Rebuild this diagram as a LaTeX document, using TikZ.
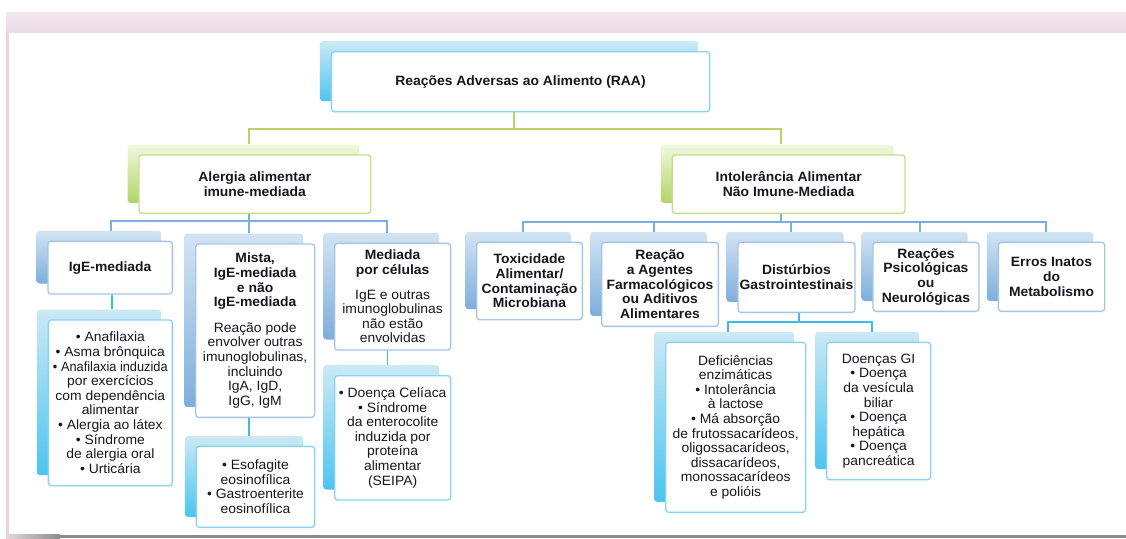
\documentclass[tikz,border=0pt]{standalone}
\usepackage{graphicx}
\usepackage{fontspec}
\setmainfont{Liberation Sans}[FakeStretch=1.03]
\definecolor{txt}{HTML}{16161F}
\definecolor{cTop}{HTML}{CBE9F4}
\definecolor{cBot}{HTML}{4DC4F1}
\definecolor{cEdge}{HTML}{86D4F2}
\definecolor{cLine}{HTML}{3DBCE8}
\definecolor{bTop}{HTML}{D2E4F3}
\definecolor{bBot}{HTML}{7DAEDB}
\definecolor{bEdge}{HTML}{A6C5E5}
\definecolor{bLine}{HTML}{7AAEDC}
\definecolor{gTop}{HTML}{F2F8DE}
\definecolor{gBot}{HTML}{B2D366}
\definecolor{gEdge}{HTML}{C5DE8C}
\definecolor{gLine}{HTML}{B6D36C}
\definecolor{pinkA}{HTML}{F4E7EF}
\definecolor{pinkB}{HTML}{ECDCE5}
\definecolor{frameL}{HTML}{E6D7DF}
\definecolor{frameB}{HTML}{8C8A8C}
\newcommand\boxfont{\fontsize{13.5}{14.6}\selectfont}
\newcommand\squeeze[1]{\scalebox{0.92}[1]{#1}}
\newcommand\boxpair[7]{%
  \node[back#2, minimum width={#5-#3}, minimum height={#6-#4}] (#1b) at ({#3-11},{#4-10}) {};
  \node[front#2, minimum width={#5-#3}, minimum height={#6-#4}] (#1) at (#3,#4) {#7};
}
\tikzset{
  backbase/.style={anchor=north west, inner sep=0pt, rounded corners=3pt, draw=none},
  frontbase/.style={anchor=north west, inner sep=0pt, rounded corners=3pt, fill=white,
    line width=1.3pt, align=center, text=txt, font=\boxfont},
  backC/.style={backbase, top color=cTop, bottom color=cBot},
  backB/.style={backbase, top color=bTop, bottom color=bBot},
  backG/.style={backbase, top color=gTop, bottom color=gBot},
  frontC/.style={frontbase, draw=cEdge},
  frontB/.style={frontbase, draw=bEdge},
  frontG/.style={frontbase, draw=gEdge},
  gconn/.style={draw=gLine, line width=1.8pt},
  bconn/.style={draw=bLine, line width=1.8pt},
  cconn/.style={draw=cLine, line width=1.8pt},
}
\begin{document}
\begin{tikzpicture}[x=1pt,y=-1pt]
\useasboundingbox (0,0) rectangle (1126,538);
\fill[white] (0,0) rectangle (1126,538);
\shade[top color=pinkA, bottom color=pinkB] (6,12) rectangle (1126,32);
\fill[frameL] (6,32) rectangle (8.5,535);
\shade[left color=frameL, right color=frameB] (6,534.5) rectangle (60,538);
\fill[frameB] (59.5,534.5) rectangle (1126,538);

\boxpair{raa}{C}{330.7}{51}{709}{111}{\textbf{Reações Adversas ao Alimento (RAA)}}
\boxpair{alergia}{G}{138.3}{154.3}{370}{212.7}{\textbf{Alergia alimentar}\\\textbf{imune-mediada}}
\boxpair{intol}{G}{671.7}{154.3}{904.3}{212.7}{\textbf{Intolerância Alimentar}\\\textbf{Não Imune-Mediada}}
\boxpair{ige}{B}{47.3}{240.7}{171.7}{293.3}{\textbf{IgE-mediada}}
\boxpair{mista}{B}{195}{243.3}{314}{416.7}{\textbf{Mista,}\\\textbf{IgE-mediada}\\\textbf{e não}\\\textbf{IgE-mediada}\\[11pt]Reação pode\\envolver outras\\imunoglobulinas,\\incluindo\\IgA, IgD,\\IgG, IgM}
\boxpair{med}{B}{334}{242.7}{450}{349.3}{\textbf{Mediada}\\\textbf{por células}\\[10pt]IgE e outras\\imunoglobulinas\\não estão\\envolvidas}
\boxpair{lista}{C}{47.7}{319.3}{171.7}{485}{• Anafilaxia\\• Asma brônquica\\\squeeze{• Anafilaxia induzida}\\por exercícios\\com dependência\\alimentar\\• Alergia ao látex\\• Síndrome\\de alergia oral\\• Urticária}
\boxpair{esof}{C}{195.7}{445.7}{314}{526.7}{• Esofagite\\eosinofílica\\• Gastroenterite\\eosinofílica}
\boxpair{celi}{C}{334}{375}{450}{499.3}{• Doença Celíaca\\• Síndrome\\da enterocolite\\induzida por\\proteína\\alimentar\\(SEIPA)}
\boxpair{tox}{B}{476}{241.7}{581.7}{319}{\textbf{Toxicidade}\\\textbf{Alimentar/}\\\textbf{Contaminação}\\\textbf{Microbiana}}
\boxpair{reac}{B}{601}{241.7}{717.7}{325.7}{\textbf{Reação}\\\textbf{a Agentes}\\\textbf{Farmacológicos}\\\textbf{ou Aditivos}\\\textbf{Alimentares}}
\boxpair{dist}{B}{737.3}{241.7}{854.3}{311.7}{\textbf{Distúrbios}\\\textbf{Gastrointestinais}}
\boxpair{psic}{B}{872.3}{241.7}{978.3}{310.7}{\textbf{Reações}\\\textbf{Psicológicas}\\\textbf{ou}\\\textbf{Neurológicas}}
\boxpair{erros}{B}{997.7}{241.7}{1104}{310.7}{\textbf{Erros Inatos}\\\textbf{do}\\\textbf{Metabolismo}}
\boxpair{def}{C}{665}{341.7}{805}{511.7}{Deficiências\\enzimáticas\\• Intolerância\\à lactose\\• Má absorção\\de frutossacarídeos,\\oligossacarídeos,\\dissacarídeos,\\monossacarídeos\\e polióis}
\boxpair{gi}{C}{826}{341.7}{930}{479}{Doenças GI\\• Doença\\da vesícula\\biliar\\• Doença\\hepática\\• Doença\\pancreática}

% green level
\coordinate (gM) at (514,129);
\coordinate (gL) at (249,129);
\coordinate (gR) at (781,129);
\draw[gconn] (raa.south -| gM) -- (gM);
\draw[gconn] (alergiab.north -| gL) -- (gL) -- (gR) -- (intolb.north -| gR);

% left blue level
\coordinate (bLL) at (111,221);
\coordinate (bLM) at (249,221);
\coordinate (bLR) at (387.3,221);
\draw[bconn] (alergia.south -| bLM) -- (mistab.north -| bLM);
\draw[bconn] (igeb.north -| bLL) -- (bLL) -- (bLR) -- (medb.north -| bLR);

% left cyan level
\coordinate (c1) at (112,300);
\coordinate (c2) at (249,430);
\coordinate (c3) at (387.5,360);
\draw[cconn] (ige.south -| c1) -- (listab.north -| c1);
\draw[cconn] (mista.south -| c2) -- (esofb.north -| c2);
\draw[cconn] (med.south -| c3) -- (celib.north -| c3);

% right blue level
\coordinate (r0) at (781,221.7);
\coordinate (r1) at (523.3,221.7);
\coordinate (r2) at (654.3,221.7);
\coordinate (r3) at (791,221.7);
\coordinate (r4) at (920,221.7);
\coordinate (r5) at (1045.7,221.7);
\draw[bconn] (intol.south -| r0) -- (r0);
\draw[bconn] (toxb.north -| r1) -- (r1) -- (r5) -- (errosb.north -| r5);
\draw[bconn] (r2) -- (reacb.north -| r2);
\draw[bconn] (r3) -- (distb.north -| r3);
\draw[bconn] (r4) -- (psicb.north -| r4);

% right cyan level
\coordinate (d0) at (799.3,322.3);
\coordinate (d1) at (727.7,322.3);
\coordinate (d2) at (872.3,322.3);
\draw[cconn] (dist.south -| d0) -- (d0);
\draw[cconn] (defb.north -| d1) -- (d1) -- (d2) -- (gib.north -| d2);
\end{tikzpicture}
\end{document}
